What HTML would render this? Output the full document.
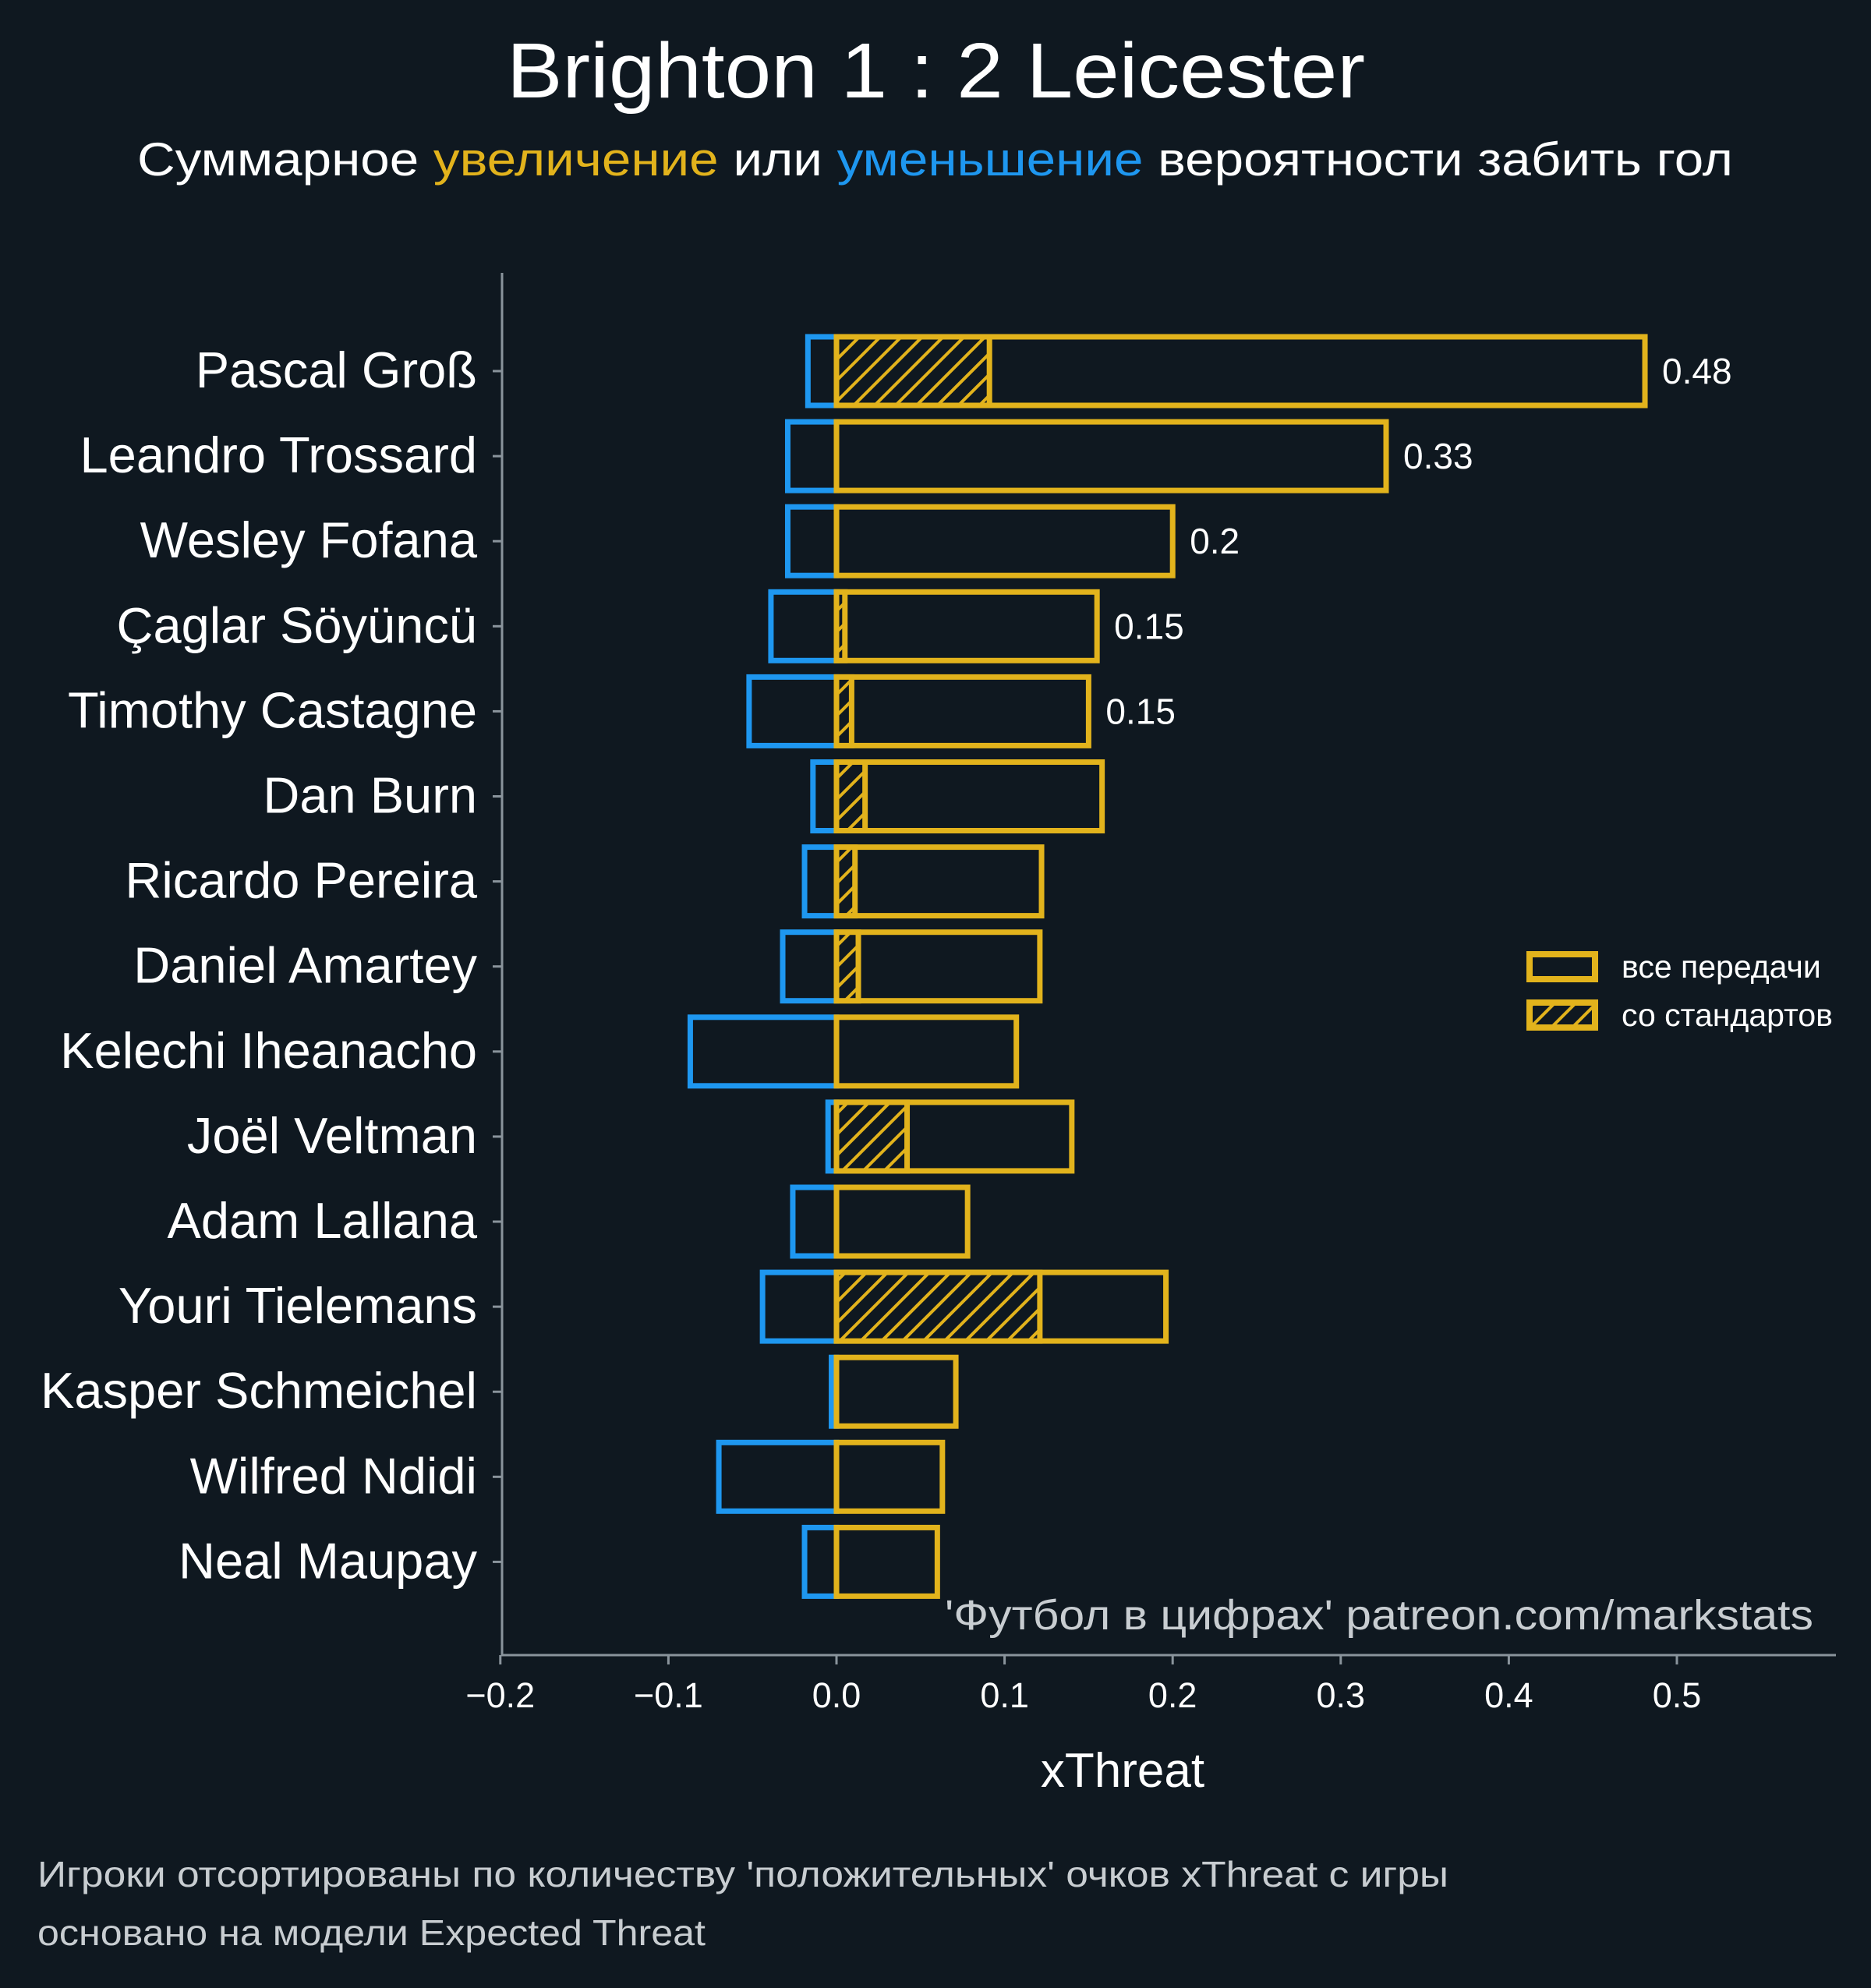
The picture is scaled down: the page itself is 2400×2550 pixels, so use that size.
<!DOCTYPE html>
<html><head><meta charset="utf-8"><style>
body{margin:0;background:#0f1820;}
svg{display:block;font-family:"Liberation Sans","DejaVu Sans",sans-serif;}
</style></head><body>
<svg id="c" width="2400" height="2550" viewBox="0 0 2400 2550">
<defs>
<pattern id="hatch" patternUnits="userSpaceOnUse" width="19" height="19" patternTransform="rotate(45)">
<rect width="19" height="19" fill="#0f1820"/>
<rect x="0" y="0" width="4" height="19" fill="#e2b31c"/>
</pattern>
</defs>
<rect width="2400" height="2550" fill="#0f1820"/>
<text x="650" y="125" textLength="1101" lengthAdjust="spacingAndGlyphs" fill="#fff" font-size="100">Brighton 1 : 2 Leicester</text>
<text x="176" y="225" textLength="2047" lengthAdjust="spacingAndGlyphs" fill="#fff" font-size="60">Суммарное <tspan fill="#e2b31c">увеличение</tspan> или <tspan fill="#1e97f0">уменьшение</tspan> вероятности забить гол</text>
<line x1="644" y1="350" x2="644" y2="2123" stroke="#8a949c" stroke-width="3"/>
<line x1="643" y1="2123" x2="2355" y2="2123" stroke="#8a949c" stroke-width="3"/>
<g id="marks"></g>
<text x="1440" y="2292" text-anchor="middle" fill="#fff" font-size="62">xThreat</text>
<text x="1212" y="2090" textLength="1114" lengthAdjust="spacingAndGlyphs" fill="#c8cdd1" font-size="54">'Футбол в цифрах' patreon.com/markstats</text>
<rect x="1962" y="1224" width="84" height="32" fill="#0f1820" stroke="#e2b31c" stroke-width="8"/>
<text x="2080" y="1254" fill="#fff" font-size="41">все передачи</text>
<rect x="1962" y="1286" width="84" height="32" fill="url(#hatch)" stroke="#e2b31c" stroke-width="8"/>
<text x="2080" y="1316" fill="#fff" font-size="41">со стандартов</text>
<text x="48" y="2420" textLength="1810" lengthAdjust="spacingAndGlyphs" fill="#c8cdd1" font-size="46">Игроки отсортированы по количеству 'положительных' очков xThreat с игры</text>
<text x="48" y="2495" textLength="857" lengthAdjust="spacingAndGlyphs" fill="#c8cdd1" font-size="46">основано на модели Expected Threat</text>
</svg>
<script>
const players=["Pascal Groß","Leandro Trossard","Wesley Fofana","Çaglar Söyüncü","Timothy Castagne","Dan Burn","Ricardo Pereira","Daniel Amartey","Kelechi Iheanacho","Joël Veltman","Adam Lallana","Youri Tielemans","Kasper Schmeichel","Wilfred Ndidi","Neal Maupay"];
const positive=[0.481,0.327,0.200,0.155,0.150,0.158,0.122,0.121,0.107,0.140,0.078,0.196,0.071,0.063,0.060];
const negative=[-0.017,-0.029,-0.029,-0.039,-0.052,-0.014,-0.019,-0.032,-0.087,-0.005,-0.026,-0.044,-0.003,-0.070,-0.019];
const setPieces=[0.091,0,0,0.005,0.009,0.017,0.011,0.013,0,0.042,0,0.121,0,0,0];
const valueLabels=["0.48","0.33","0.2","0.15","0.15"];
const xTicks=[-0.2,-0.1,0.0,0.1,0.2,0.3,0.4,0.5];
const xTickLabels=["−0.2","−0.1","0.0","0.1","0.2","0.3","0.4","0.5"];

const NS="http://www.w3.org/2000/svg";
const g=document.getElementById("marks");
const X=v=>1073+v*2156;
const Y=i=>476+i*109.1;
const BH=88;
function mk(tag,attrs){const e=document.createElementNS(NS,tag);for(const k in attrs)e.setAttribute(k,attrs[k]);g.appendChild(e);return e;}
xTicks.forEach((t,i)=>{
  const l=mk("line",{x1:X(t),x2:X(t),y1:2123,y2:2135,stroke:"#8a949c","stroke-width":3});
  
  
  const tx=mk("text",{x:X(t),y:2190,"text-anchor":"middle",fill:"#fff","font-size":45});
  tx.textContent=xTickLabels[i];
  
  
});
players.forEach((p,i)=>{
  const y=Y(i);
  const tk=mk("line",{x1:632,x2:644,y1:y,y2:y,stroke:"#8a949c","stroke-width":3});
  
  
  const lb=mk("text",{x:612,y:y+21,"text-anchor":"end",fill:"#fff","font-size":65});
  lb.textContent=p;
  
  
  const nb=mk("rect",{x:X(negative[i]),y:y-BH/2,width:X(0)-X(negative[i]),height:BH,fill:"none",stroke:"#1e97f0","stroke-width":7});
  
  
  const pb=mk("rect",{x:X(0),y:y-BH/2,width:X(positive[i])-X(0),height:BH,fill:"none",stroke:"#e2b31c","stroke-width":7});
  
  
  if(setPieces[i]>0){
    const hb=mk("rect",{x:X(0),y:y-BH/2,width:X(setPieces[i])-X(0),height:BH,fill:"url(#hatch)",stroke:"#e2b31c","stroke-width":7});
    
    
  }
  if(i<valueLabels.length){
    const vl=mk("text",{x:X(positive[i])+22,y:y+16,fill:"#fff","font-size":46});
    vl.textContent=valueLabels[i];
    
    
  }
});
</script>
</body></html>
